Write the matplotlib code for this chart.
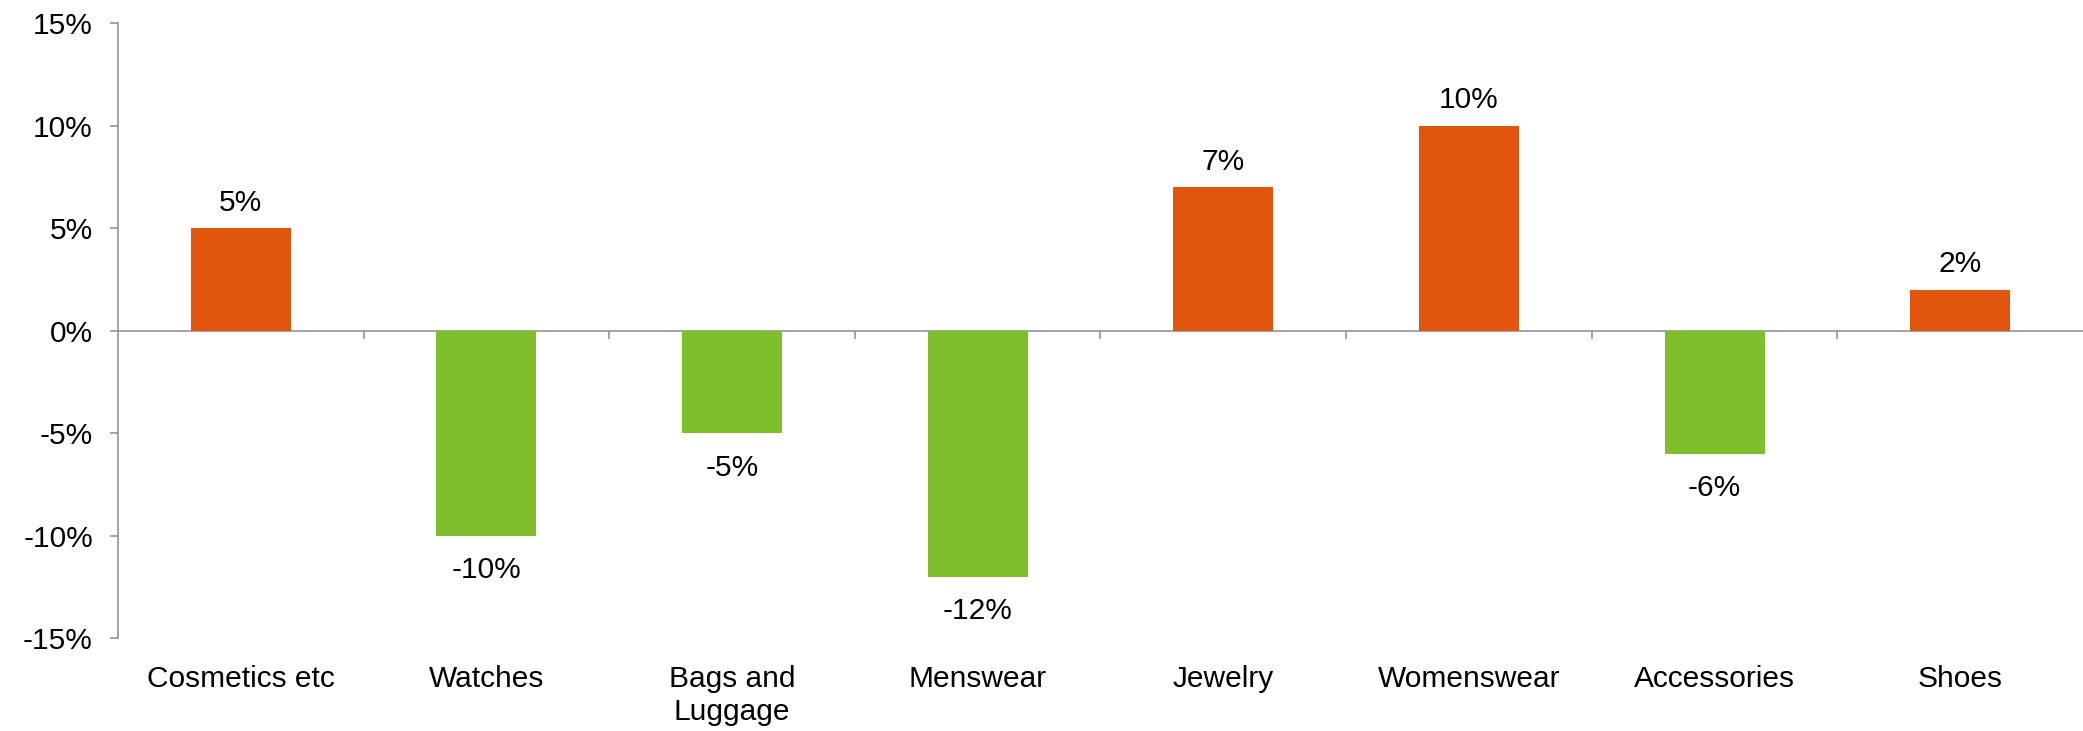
import numpy as np
import matplotlib.pyplot as plt
from matplotlib.ticker import FixedLocator, PercentFormatter

# ============================================================
# DATA
# ============================================================

categories = ["Cosmetics etc", "Watches", "Bags and\nLuggage", "Menswear",
              "Jewelry", "Womenswear", "Accessories", "Shoes"]
growth = [5, -10, -5, -12, 7, 10, -6, 2]
y_ticks = [-15, -10, -5, 0, 5, 10, 15]

ORANGE = '#E2550F'
GREEN = '#80BF2C'
AXIS_GRAY = '#8c8c8c'
FS = 21.5

plt.rcParams['font.family'] = ['Liberation Sans', 'DejaVu Sans']
plt.rcParams['axes.unicode_minus'] = False

# ============================================================
# FIGURE
# ============================================================

fig = plt.figure(figsize=(20.83, 7.31), dpi=100)
ax = fig.add_axes([0.0566, 0.1272, 0.9434, 0.8413])

x = np.arange(len(categories))
colors = [ORANGE if v >= 0 else GREEN for v in growth]
ax.bar(x, growth, width=0.407, color=colors, zorder=3)

ax.set_xlim(-0.5, len(categories) - 0.5)
ax.set_ylim(-15, 15)

# ============================================================
# AXES
# ============================================================

for s in ['top', 'right']:
    ax.spines[s].set_visible(False)
ax.spines['bottom'].set_position(('data', 0))
for s in ['bottom', 'left']:
    ax.spines[s].set_color(AXIS_GRAY)
    ax.spines[s].set_linewidth(1.1)

ax.yaxis.set_major_locator(FixedLocator(y_ticks))
ax.yaxis.set_major_formatter(PercentFormatter(decimals=0))
ax.tick_params(axis='y', direction='out', length=6, width=1.1,
               color=AXIS_GRAY, labelsize=FS, pad=12)

ax.set_xticks([])
ax.xaxis.set_minor_locator(FixedLocator(np.arange(0.5, len(categories) - 0.5, 1)))
ax.tick_params(axis='x', which='minor', direction='out', length=6, width=1.1,
               color=AXIS_GRAY)

# category labels at the bottom
for i, lab in enumerate(categories):
    ax.text(i, -16.3, lab, ha='center', va='top', fontsize=FS,
            linespacing=1.25, clip_on=False)

# value labels
for i, v in enumerate(growth):
    if v >= 0:
        ax.annotate(f"{v}%", (i, v), xytext=(0, 8), textcoords='offset points',
                    ha='center', va='bottom', fontsize=FS)
    else:
        ax.annotate(f"{v}%", (i, v), xytext=(0, -15), textcoords='offset points',
                    ha='center', va='top', fontsize=FS)

fig.savefig('out.png', dpi=100)
